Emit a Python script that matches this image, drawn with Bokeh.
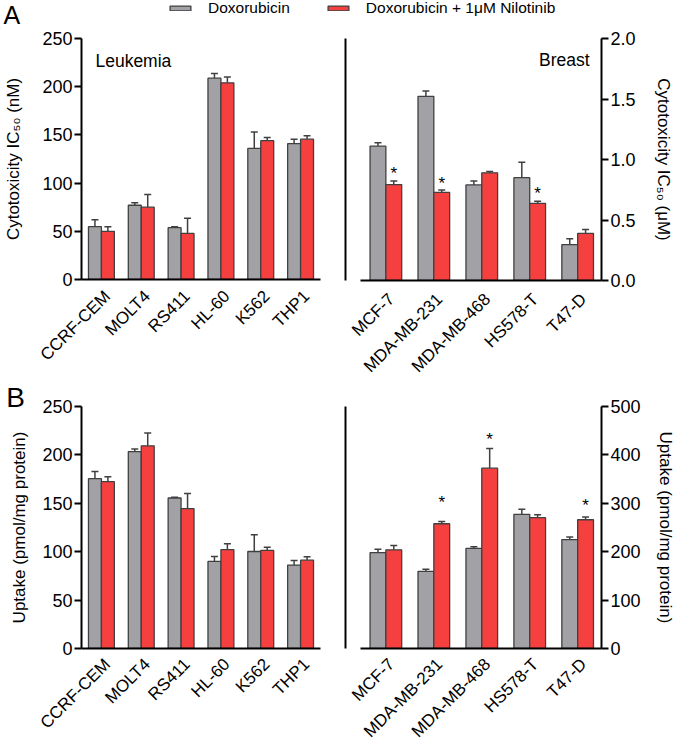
import numpy as np
import pandas as pd
from bokeh.plotting import figure
from bokeh.models import (ColumnDataSource, Range1d, FixedTicker, LinearAxis, Whisker,
                          TeeHead, Label, Legend, LegendItem, PrintfTickFormatter)
from bokeh.layouts import column, row
from bokeh.embed import file_html
from bokeh.resources import INLINE
from bokeh.core.properties import value

# ---------------- data ----------------
leuk_cells = ["CCRF-CEM", "MOLT4", "RS411", "HL-60", "K562", "THP1"]
breast_cells = ["MCF-7", "MDA-MB-231", "MDA-MB-468", "HS578-T", "T47-D"]

# A: cytotoxicity IC50
a_leuk_dox = [54.8, 77.0, 53.8, 208.8, 136.0, 140.9]
a_leuk_dox_sem = [7.3, 2.5, 0.8, 5.0, 17.0, 4.6]
a_leuk_nil = [50.0, 75.0, 47.8, 204.0, 144.0, 145.6]
a_leuk_nil_sem = [4.6, 13.1, 15.8, 6.0, 3.2, 3.6]

a_breast_dox = [1.110, 1.522, 0.790, 0.850, 0.297]
a_breast_dox_sem = [0.028, 0.045, 0.032, 0.127, 0.048]
a_breast_nil = [0.793, 0.728, 0.890, 0.638, 0.390]
a_breast_nil_sem = [0.029, 0.020, 0.010, 0.016, 0.031]
a_star_idx = [0, 1, 3]
a_star_y = [0.886, 0.804, 0.722]

# B: uptake
b_leuk_dox = [175.4, 203.4, 155.5, 90.0, 100.2, 86.2]
b_leuk_dox_sem = [7.4, 2.6, 0.7, 5.0, 17.4, 4.6]
b_leuk_nil = [172.3, 209.4, 144.5, 102.2, 101.3, 91.2]
b_leuk_nil_sem = [5.0, 13.1, 15.5, 6.1, 3.4, 3.6]

b_breast_dox = [198.0, 159.5, 206.9, 277.2, 225.1]
b_breast_dox_sem = [7.2, 4.1, 3.4, 10.4, 5.1]
b_breast_nil = [203.8, 257.7, 372.5, 270.3, 266.0]
b_breast_nil_sem = [8.9, 4.9, 40.5, 6.3, 5.5]
b_star_idx = [1, 2, 4]
b_star_y = [301, 432, 296]

series_names = ["Doxorubicin", "Doxorubicin + 1\u03bcM Nilotinib"]

# ---------------- style ----------------
FONT = "Liberation Sans"
GRAY = "#a2a2a6"
RED = "#f6403f"
EDGE = "#404040"


def base_fig(width, height, borders, xr, yr, side):
    p = figure(width=width, height=height, output_backend="svg", toolbar_location=None,
               x_range=xr, y_range=yr, y_axis_location=side, title=None,
               min_border_left=borders[0], min_border_right=borders[1],
               min_border_top=borders[2], min_border_bottom=borders[3])
    p.outline_line_color = None
    p.grid.visible = False
    p.background_fill_color = "white"
    p.border_fill_color = "white"
    return p


def panel(cells, dox, dox_sem, nil, nil_sem, *, width, height, borders, xr, xbounds,
          yend, ystep, fmt, side, ytitle, title_standoff, bar_w, label_shift, label_standoff,
          star_idx=None, star_y=None):
    p = base_fig(width, height, borders, xr, Range1d(0, yend), side)
    idx = np.arange(len(cells))
    df = pd.DataFrame(dict(cell=cells, dox=dox, nil=nil))
    df["xg"] = idx - bar_w / 2
    df["xr"] = idx + bar_w / 2
    df["dox_hi"] = df["dox"] + np.asarray(dox_sem)
    df["nil_hi"] = df["nil"] + np.asarray(nil_sem)
    src = ColumnDataSource(df)

    p.vbar(x="xg", top="dox", bottom=0, width=bar_w, source=src,
           fill_color=GRAY, line_color=EDGE, line_width=1.3)
    p.vbar(x="xr", top="nil", bottom=0, width=bar_w, source=src,
           fill_color=RED, line_color=EDGE, line_width=1.3)
    for xc, lo, hi in (("xg", "dox", "dox_hi"), ("xr", "nil", "nil_hi")):
        p.add_layout(Whisker(source=src, base=xc, lower=lo, upper=hi, dimension="height",
                             line_color=EDGE, line_width=1.5, lower_head=None,
                             upper_head=TeeHead(size=7, line_color=EDGE, line_width=1.5)))

    if star_idx is not None:
        ssrc = ColumnDataSource(dict(x=np.asarray(star_idx) + bar_w / 2, y=star_y,
                                     t=["*"] * len(star_idx)))
        p.text(x="x", y="y", text="t", source=ssrc, text_font=value(FONT),
               text_font_size="17px", text_align="center", text_baseline="middle",
               text_color="black")

    # y axis
    ya = p.yaxis[0]
    ya.ticker = FixedTicker(ticks=list(np.arange(0, yend + ystep / 2, ystep)))
    ya.formatter = PrintfTickFormatter(format=fmt)
    ya.axis_line_width = 2
    ya.axis_line_color = "black"
    ya.major_tick_line_width = 2
    ya.major_tick_line_color = "black"
    ya.major_tick_out = 7
    ya.major_tick_in = 0
    ya.minor_tick_line_color = None
    ya.major_label_text_font = FONT
    ya.major_label_text_font_size = "18px"
    ya.major_label_text_color = "black"
    ya.major_label_standoff = 2
    ya.axis_label = ytitle
    ya.axis_label_text_font = FONT
    ya.axis_label_text_font_size = "17px"
    ya.axis_label_text_font_style = "normal"
    ya.axis_label_text_color = "black"
    ya.axis_label_standoff = title_standoff

    # x axis (categories); the invisible ticks sit a little right of the bar pairs
    xa = p.xaxis[0]
    tick_pos = [float(i) + label_shift for i in idx]
    xa.ticker = FixedTicker(ticks=tick_pos)
    xa.major_label_overrides = {t: c for t, c in zip(tick_pos, cells)}
    xa.major_label_orientation = np.pi / 4
    xa.major_label_text_font = FONT
    xa.major_label_text_font_size = "17px"
    xa.major_label_text_color = "black"
    xa.major_label_standoff = label_standoff
    xa.major_tick_out = 0
    xa.major_tick_in = 0
    xa.minor_tick_line_color = None
    xa.axis_line_width = 2
    xa.axis_line_color = "black"
    if xbounds is not None:
        xa.bounds = xbounds

    if side == "right":
        la = LinearAxis(ticker=FixedTicker(ticks=[]), axis_line_width=2, axis_line_color="black",
                        major_tick_out=0, major_tick_in=0, minor_tick_out=0, minor_tick_in=0,
                        major_label_text_font_size="0px", major_label_standoff=0)
        p.add_layout(la, "left")
    return p


# ---------------- legend strip with panel letter A ----------------
lg = figure(width=677, height=28, output_backend="svg", toolbar_location=None, title=None,
            x_range=Range1d(0, 677), y_range=Range1d(0, 28),
            x_axis_location=None, y_axis_location=None, min_border=0)
lg.outline_line_color = None
lg.grid.visible = False
lg.border_fill_color = "white"
lg.background_fill_color = "white"
proxy = ColumnDataSource(dict(x=[-1000.0], top=[0.0]))   # legend swatch proxies, off-screen
r1 = lg.vbar(x="x", top="top", width=1, source=proxy, fill_color=GRAY, line_color=EDGE, line_width=1.3)
r2 = lg.vbar(x="x", top="top", width=1, source=proxy, fill_color=RED, line_color=EDGE, line_width=1.3)
legend = Legend(items=[LegendItem(label=series_names[0], renderers=[r1]),
                       LegendItem(label=series_names[1], renderers=[r2])],
                orientation="horizontal", location=(167, 11), padding=0, margin=0,
                spacing=35, label_standoff=15, glyph_width=26, glyph_height=6, label_height=16,
                label_text_font=FONT, label_text_font_size="15.5px", label_text_color="black",
                border_line_color=None, background_fill_alpha=0)
lg.add_layout(legend)
lg.add_layout(Label(x=3, y=14, text="A", text_font=FONT, text_font_size="25px",
                    text_baseline="middle", text_color="black"))

# ---------------- panels ----------------
a_left = panel(leuk_cells, a_leuk_dox, a_leuk_dox_sem, a_leuk_nil, a_leuk_nil_sem,
               width=337, height=346, borders=(81, 9, 10, 92), xr=Range1d(-0.5, 5.5), xbounds=None,
               yend=250, ystep=50, fmt="%d", side="left",
               ytitle="Cytotoxicity IC\u2085\u2080 (nM)", title_standoff=16, bar_w=0.325,
               label_shift=0.15, label_standoff=14)
a_left.add_layout(Label(x=-0.15, y=226.8, text="Leukemia", text_font=FONT, text_font_size="17.5px",
                        text_baseline="middle", text_color="black"))

a_right = panel(breast_cells, a_breast_dox, a_breast_dox_sem, a_breast_nil, a_breast_nil_sem,
                width=340, height=357, borders=(8, 72, 10, 103), xr=Range1d(-0.842, 4.497),
                xbounds=(-0.534, 4.497), yend=2.0, ystep=0.5, fmt="%.1f", side="right",
                ytitle="Cytotoxicity IC\u2085\u2080 (\u03bcM)", title_standoff=15, bar_w=0.33,
                label_shift=0.12, label_standoff=16, star_idx=a_star_idx, star_y=a_star_y)
a_right.add_layout(Label(x=4.25, y=1.823, text="Breast", text_font=FONT, text_font_size="17.5px",
                         text_align="right", text_baseline="middle", text_color="black"))

b_left = panel(leuk_cells, b_leuk_dox, b_leuk_dox_sem, b_leuk_nil, b_leuk_nil_sem,
               width=337, height=378, borders=(77, 17, 32, 104), xr=Range1d(-0.5, 5.5), xbounds=None,
               yend=250, ystep=50, fmt="%d", side="left",
               ytitle="Uptake (pmol/mg protein)", title_standoff=10, bar_w=0.325,
               label_shift=0.15, label_standoff=13)
# panel letter B lives in the top border panel so it is not clipped to the frame
b_left.add_layout(Label(x=-2.39, y=259.0, text="B", text_font=FONT, text_font_size="28px",
                        text_baseline="middle", text_color="black"), "above")

b_right = panel(breast_cells, b_breast_dox, b_breast_dox_sem, b_breast_nil, b_breast_nil_sem,
                width=340, height=367, borders=(8, 72, 21, 104), xr=Range1d(-0.842, 4.497),
                xbounds=(-0.534, 4.497), yend=500, ystep=100, fmt="%d", side="right",
                ytitle="Uptake (pmol/mg protein)", title_standoff=12, bar_w=0.33,
                label_shift=0.12, label_standoff=13, star_idx=b_star_idx, star_y=b_star_y)

layout = column(lg, row(column(a_left, b_left), column(a_right, b_right)))

open("out.html", "w").write(file_html(layout, INLINE))
